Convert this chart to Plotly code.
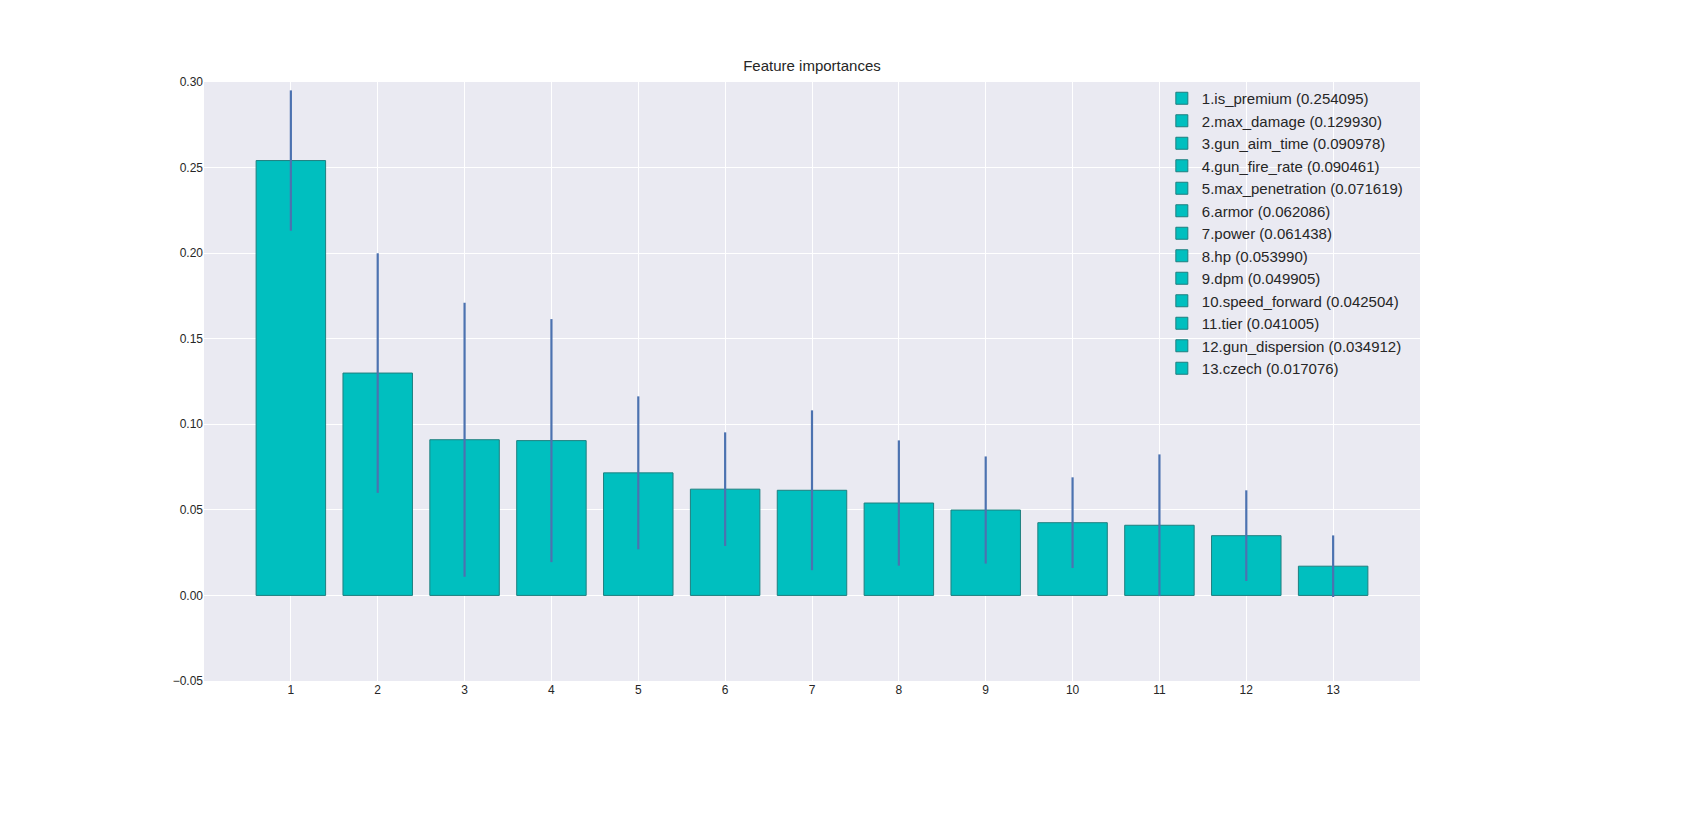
import plotly.graph_objects as go

ranks = list(range(1, 14))
features = ["is_premium", "max_damage", "gun_aim_time", "gun_fire_rate", "max_penetration",
            "armor", "power", "hp", "dpm", "speed_forward", "tier", "gun_dispersion", "czech"]
importances = [0.254095, 0.129930, 0.090978, 0.090461, 0.071619, 0.062086, 0.061438,
               0.053990, 0.049905, 0.042504, 0.041005, 0.034912, 0.017076]
stds = [0.041, 0.070, 0.080, 0.071, 0.0447, 0.0332, 0.0467, 0.0366, 0.0313, 0.0265, 0.0414, 0.0265, 0.018]

fig = go.Figure()
for r, f, v, s in zip(ranks, features, importances, stds):
    fig.add_trace(go.Bar(
        x=[r], y=[v], width=0.8,
        name=f"{r}.{f} ({v:.6f})",
        marker=dict(color="#00BFBF", line=dict(color="#1f7f7f", width=1)),
        error_y=dict(type="data", array=[s], visible=True, color="#4C72B0", thickness=2.2, width=0),
    ))

fig.update_layout(
    width=1707, height=813,
    barmode="overlay",
    paper_bgcolor="white", plot_bgcolor="#EAEAF2",
    margin=dict(l=196, r=295, t=74, b=140),
    font=dict(family="Liberation Sans, Arial, sans-serif", color="#262626", size=12),
    title=dict(text="Feature importances", x=(196 + 1412) / 2 / 1707, xanchor="center",
               y=1 - 58 / 813, yanchor="middle", font=dict(size=15)),
    legend=dict(x=0.99, y=1.0, xanchor="right", yanchor="top", bgcolor="rgba(0,0,0,0)",
                font=dict(size=15), itemwidth=30, tracegroupgap=0),
    showlegend=True,
)
fig.update_xaxes(range=[0, 14], tickmode="array", tickvals=ranks, ticktext=[str(r) for r in ranks],
                 showgrid=True, gridcolor="white", gridwidth=1.3, zeroline=False, ticks="",
                 showline=False)
fig.update_yaxes(range=[-0.05, 0.30], dtick=0.05, tickformat=".2f", showgrid=True, gridcolor="white",
                 gridwidth=1.3, zeroline=True, zerolinecolor="white", zerolinewidth=1.3, ticks="",
                 showline=False)

fig.write_html("out.html")
